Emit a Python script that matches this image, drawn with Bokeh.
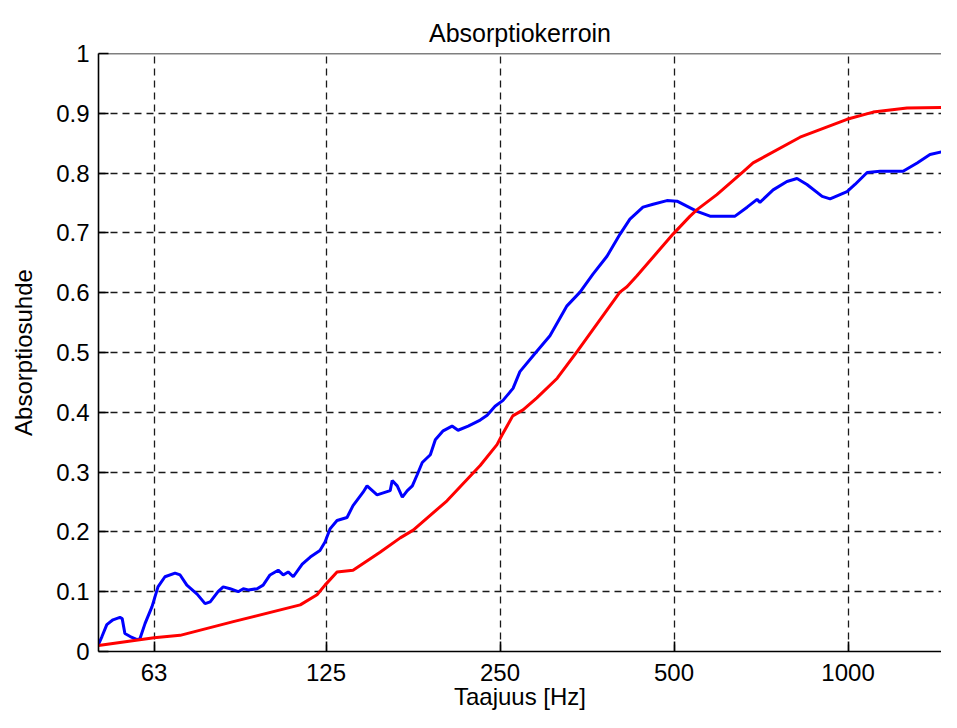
from bokeh.plotting import figure
from bokeh.models import FixedTicker, Range1d, Span
from bokeh.embed import file_html
from bokeh.resources import INLINE

# ---- data ----
title_text = "Absorptiokerroin"
x_label = "Taajuus [Hz]"
y_label = "Absorptiosuhde"

x_ticks = [63, 125, 250, 500, 1000]
x_tick_labels = ["63", "125", "250", "500", "1000"]
y_ticks = [0, 0.1, 0.2, 0.3, 0.4, 0.5, 0.6, 0.7, 0.8, 0.9, 1.0]
y_tick_labels = ["0", "0.1", "0.2", "0.3", "0.4", "0.5", "0.6", "0.7", "0.8", "0.9", "1"]

blue_freq = [50.5, 51.2, 52.2, 53.5, 55.0, 55.5, 56.1, 57.3, 58.9, 59.6, 60.8, 62.5,
             64.0, 65.8, 68.5, 69.9, 71.8, 74.8, 77.2, 78.8, 81.3, 83.0, 85.3, 88.1,
             89.9, 91.7, 95.0, 97.3, 100, 103.3, 105.4, 107.5, 109.7, 113.7, 117.4,
             122, 124.5, 127.0, 130.6, 135.9, 139.2, 144.8, 147.2, 153.2, 161.4,
             162.7, 166.0, 169.4, 172.8, 176.3, 179.8, 183.4, 189.4, 193.2, 199.3,
             206.5, 211.5, 220.2, 231, 237.5, 245.1, 253, 263.3, 270.6, 289.5, 305,
             326.4, 343.8, 362, 382.8, 403.3, 419.4, 441.8, 460, 486, 506, 548, 577,
             637.5, 669, 696, 704, 742, 784, 816, 849, 902, 931, 996, 1028, 1079,
             1136, 1245, 1317, 1386, 1460, 1543]
blue_alpha = [0.012, 0.025, 0.045, 0.053, 0.057, 0.055, 0.030, 0.025, 0.020, 0.022,
              0.047, 0.075, 0.108, 0.125, 0.131, 0.128, 0.111, 0.096, 0.080, 0.083,
              0.100, 0.108, 0.105, 0.100, 0.105, 0.103, 0.105, 0.111, 0.128, 0.136,
              0.128, 0.133, 0.125, 0.146, 0.158, 0.169, 0.183, 0.205, 0.219, 0.224,
              0.244, 0.266, 0.277, 0.262, 0.269, 0.286, 0.277, 0.258, 0.269, 0.277,
              0.296, 0.316, 0.329, 0.354, 0.369, 0.377, 0.370, 0.377, 0.387, 0.395,
              0.410, 0.420, 0.440, 0.468, 0.502, 0.528, 0.578, 0.601, 0.631, 0.661,
              0.698, 0.723, 0.743, 0.748, 0.754, 0.753, 0.736, 0.728, 0.728, 0.743,
              0.756, 0.751, 0.772, 0.786, 0.791, 0.781, 0.761, 0.757, 0.769, 0.781,
              0.801, 0.803, 0.803, 0.817, 0.831, 0.836, 0.842]

red_freq = [50.5, 63, 69.9, 86.4, 112.8, 120.6, 124.5, 130.6, 139.2, 155.0, 168,
            176.9, 202.4, 231, 247, 252, 263, 274, 289.5, 314, 340, 403, 414.5,
            431, 498, 533, 548, 593, 658, 685, 826, 996, 1105, 1265, 1543]
red_alpha = [0.010, 0.023, 0.027, 0.050, 0.078, 0.095, 0.111, 0.133, 0.136, 0.166,
             0.190, 0.203, 0.252, 0.311, 0.346, 0.362, 0.394, 0.404, 0.424, 0.457,
             0.502, 0.601, 0.610, 0.628, 0.698, 0.728, 0.739, 0.764, 0.802, 0.817,
             0.860, 0.890, 0.902, 0.909, 0.910]

FONT = "Liberation Sans"
FS = "24px"
TXT = "#000000"

p = figure(width=941, height=712, x_axis_type="log",
           x_range=Range1d(50.5, 1451), y_range=Range1d(0, 1),
           output_backend="svg", toolbar_location=None,
           min_border_left=98, min_border_right=0,
           min_border_top=53, min_border_bottom=60)

p.outline_line_color = None
p.background_fill_color = "white"
p.border_fill_color = "white"

p.title.text = title_text
p.title.align = "center"
p.title.vertical_align = "top"
p.title.text_font = FONT
p.title.text_font_size = "25px"
p.title.text_font_style = "normal"
p.title.text_color = TXT

xa = p.xaxis[0]
xa.ticker = FixedTicker(ticks=x_ticks)
xa.major_label_overrides = {t: l for t, l in zip(x_ticks, x_tick_labels)}
xa.axis_label = x_label
ya = p.yaxis[0]
ya.ticker = FixedTicker(ticks=y_ticks)
ya.major_label_overrides = {t: l for t, l in zip(y_ticks, y_tick_labels)}
ya.axis_label = y_label

for ax in (xa, ya):
    ax.major_tick_in = 10
    ax.major_tick_out = 0
    ax.minor_tick_in = 0
    ax.minor_tick_out = 0
    ax.axis_line_color = "black"
    ax.axis_line_width = 1.6
    ax.major_tick_line_color = "black"
    ax.major_tick_line_width = 1.6
    ax.major_label_text_font = FONT
    ax.major_label_text_font_size = FS
    ax.major_label_text_color = TXT
    ax.axis_label_text_font = FONT
    ax.axis_label_text_font_size = FS
    ax.axis_label_text_font_style = "normal"
    ax.axis_label_text_color = TXT

xa.major_label_standoff = 12
xa.axis_label_standoff = -1
ya.major_label_standoff = 9
ya.axis_label_standoff = 16

# top border of the axes box
p.add_layout(Span(location=1, dimension="width", line_color="black", line_width=1.6))

for g in (p.xgrid[0], p.ygrid[0]):
    g.grid_line_color = "#1a1a1a"
    g.grid_line_width = 1.3
    g.grid_line_dash = "7 5"
p.xgrid[0].ticker = FixedTicker(ticks=x_ticks)
p.ygrid[0].ticker = FixedTicker(ticks=y_ticks)

p.line(blue_freq, blue_alpha, line_color="#0000ff", line_width=3)
p.line(red_freq, red_alpha, line_color="#ff0000", line_width=3)

open("out.html", "w").write(file_html(p, INLINE))
